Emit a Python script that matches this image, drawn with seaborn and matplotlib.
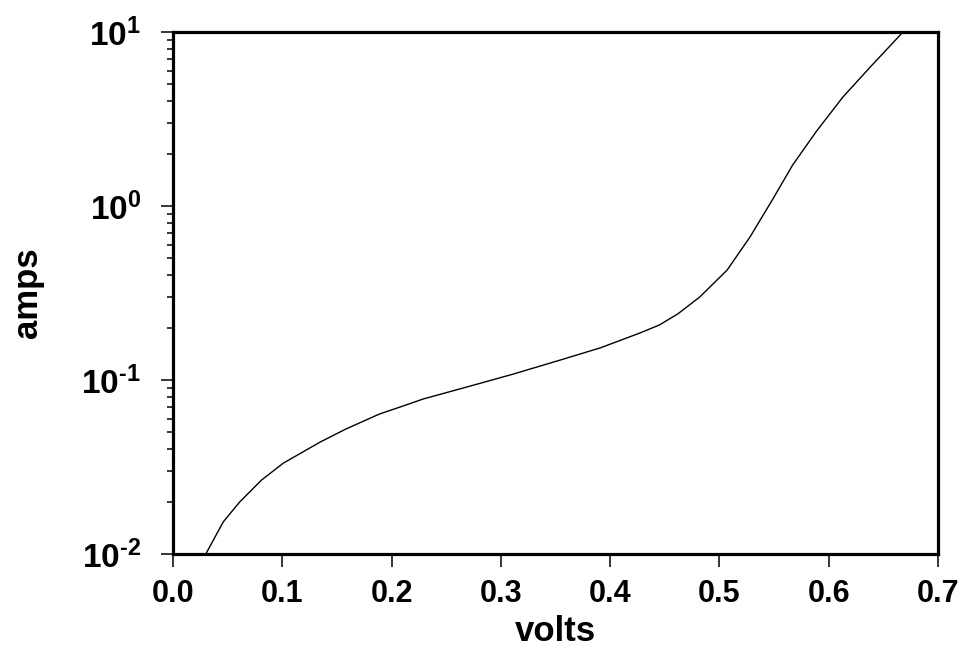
import numpy as np
import pandas as pd
import seaborn as sns
import matplotlib
matplotlib.use("Agg")
import matplotlib.pyplot as plt
from matplotlib import ticker

# values
volts = [0.030, 0.046, 0.061, 0.081, 0.101, 0.135, 0.158, 0.189, 0.208, 0.229,
         0.269, 0.311, 0.354, 0.391, 0.427, 0.445, 0.462, 0.482, 0.507, 0.528,
         0.549, 0.567, 0.589, 0.613, 0.638, 0.668]
amps = [0.0100, 0.0153, 0.0199, 0.0266, 0.0333, 0.0441, 0.0522, 0.0638, 0.0700, 0.0778,
        0.0912, 0.108, 0.130, 0.153, 0.186, 0.207, 0.240, 0.300, 0.428, 0.664,
        1.10, 1.72, 2.70, 4.23, 6.29, 10.0]
xticks = [0.0, 0.1, 0.2, 0.3, 0.4, 0.5, 0.6, 0.7]

df = pd.DataFrame({"volts": volts, "amps": amps})

sns.set_theme(style="white")
plt.rcParams["font.family"] = ["Liberation Sans", "DejaVu Sans"]
plt.rcParams["font.weight"] = "bold"
plt.rcParams["text.color"] = "black"
plt.rcParams["axes.labelcolor"] = "black"
plt.rcParams["xtick.color"] = "black"
plt.rcParams["ytick.color"] = "black"
plt.rcParams["mathtext.fontset"] = "custom"
plt.rcParams["mathtext.rm"] = "Liberation Sans:bold"
plt.rcParams["mathtext.bf"] = "Liberation Sans:bold"

fig = plt.figure(figsize=(9.63, 6.57), dpi=100)
ax = fig.add_axes([173 / 963, 1 - 554 / 657, (938 - 173) / 963, (554 - 32) / 657])

sns.lineplot(df, x="volts", y="amps", color="black", linewidth=1.0, ax=ax)
ax.set_yscale("log")
ax.set_xlim(0, 0.7)
ax.set_ylim(1e-2, 1e1)


def exp_label(v, pos):
    e = int(round(np.log10(v)))
    if e < 0:
        return r"$\mathbf{10^{\text{-}%d}}$" % (-e)
    return r"$\mathbf{10^{%d}}$" % e


ax.set_xticks(xticks)
ax.xaxis.set_major_formatter(ticker.FormatStrFormatter("%.1f"))
ax.yaxis.set_major_locator(ticker.LogLocator(base=10))
ax.yaxis.set_minor_locator(ticker.LogLocator(base=10, subs=np.arange(2, 10)))
ax.yaxis.set_major_formatter(ticker.FuncFormatter(exp_label))
ax.yaxis.set_minor_formatter(ticker.NullFormatter())

for s in ax.spines.values():
    s.set_linewidth(2.3)
    s.set_color("black")

ax.tick_params(axis="x", which="major", direction="out", length=9, width=1.1,
               labelsize=22, pad=9, bottom=True)
ax.tick_params(axis="y", which="major", direction="out", length=9, width=1.1,
               labelsize=24, pad=14, left=True)
ax.tick_params(axis="y", which="minor", direction="out", length=4.5, width=1.1,
               left=True)

ax.set_xlabel("volts", fontsize=25, fontweight="bold", labelpad=4)
ax.set_ylabel("amps", fontsize=25, fontweight="bold")
ax.yaxis.set_label_coords(-0.168, 0.5)

fig.savefig("out.png", dpi=100)
